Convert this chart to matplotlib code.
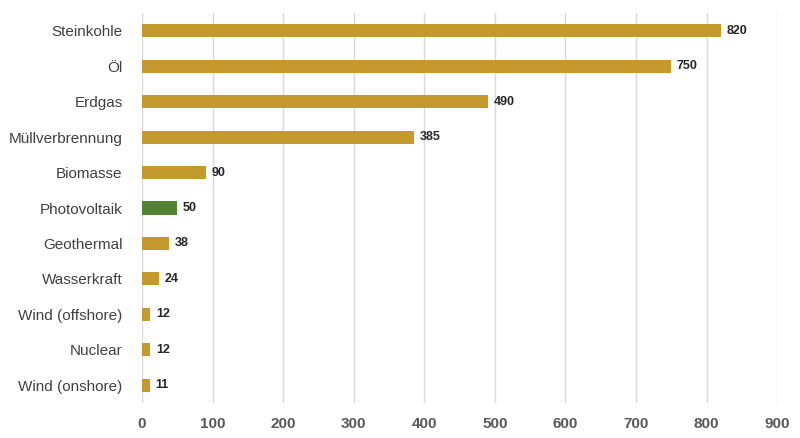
import matplotlib
matplotlib.use("Agg")
import matplotlib.pyplot as plt

categories = ["Steinkohle", "Öl", "Erdgas", "Müllverbrennung", "Biomasse", "Photovoltaik",
              "Geothermal", "Wasserkraft", "Wind (offshore)", "Nuclear", "Wind (onshore)"]
values = [820, 750, 490, 385, 90, 50, 38, 24, 12, 12, 11]
highlight = "Photovoltaik"
xticks = [0, 100, 200, 300, 400, 500, 600, 700, 800, 900]

plt.rcParams['font.family'] = ['Liberation Sans', 'DejaVu Sans']
fig = plt.figure(figsize=(8, 4.38), dpi=100)
ax = fig.add_axes([0.1775, 0.08, 0.794, 0.89])
ypos = list(range(len(categories)))[::-1]
colors = ["#548235" if c == highlight else "#C49A2E" for c in categories]
ax.barh(ypos, values, height=0.37, color=colors, zorder=3)
for y, v in zip(ypos, values):
    ax.text(v + 8, y, str(v), va='center', ha='left', fontsize=9, fontweight='bold', color='#262626')
ax.set_yticks(ypos)
ax.set_yticklabels(categories, fontsize=11, color='#404040')
ax.set_xticks(xticks)
ax.set_xticklabels([str(t) for t in xticks], fontsize=11, fontweight='bold', color='#595959')
ax.set_xlim(0, 900)
ax.set_ylim(-0.5, len(categories) - 0.5)
ax.grid(axis='x', color='#D9D9D9', linewidth=1, zorder=0)
for s in ax.spines.values():
    s.set_visible(False)
ax.tick_params(axis='y', length=0, pad=14)
ax.tick_params(axis='x', length=0, pad=10)
fig.savefig("out.png", dpi=100)
